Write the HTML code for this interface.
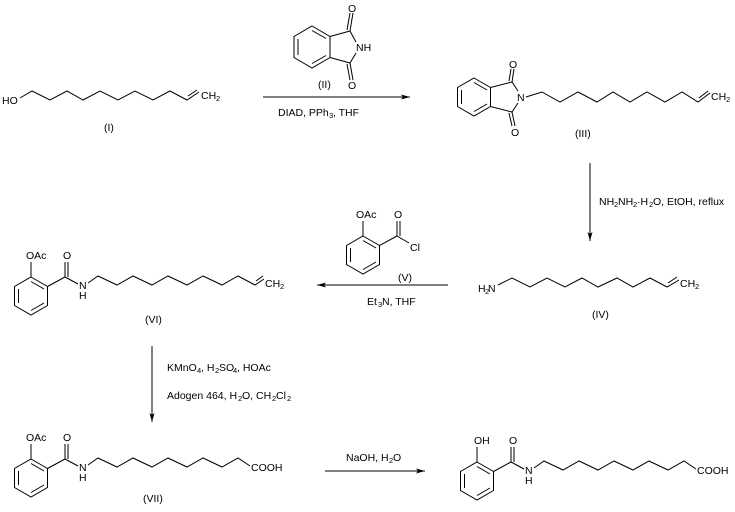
<!DOCTYPE html>
<html><head><meta charset="utf-8"><style>
html,body{margin:0;padding:0;background:#fff;}
svg{display:block;}
text{font-family:"Liberation Sans",Arial,sans-serif;font-size:10.5px;fill:#000;}
.s{font-size:7.5px;}
line,polyline,polygon.r{stroke:#000;stroke-width:1;fill:none;}
</style></head><body>
<svg width="735" height="512" viewBox="0 0 735 512" xmlns="http://www.w3.org/2000/svg">
<defs>
<marker id="ah" markerWidth="10" markerHeight="8" refX="9" refY="4" orient="auto" markerUnits="userSpaceOnUse">
<path d="M0,1.5 L9,4 L0,6.5 L2,4 Z" fill="#000"/>
</marker>
</defs>

<!-- (I) -->
<text x="2" y="104">HO</text>
<polyline points="20,98 32,91 50,100 67,91 83,100 100,91 118,100 135,91 153,100 170,91 187,100 199,92"/>
<line x1="188" y1="96" x2="197" y2="90"/>
<text x="201" y="99">CH</text><text class="s" x="216" y="101">2</text>
<text x="104" y="131">(I)</text>

<!-- (II) phthalimide -->
<polygon class="r" points="312,26 330,36.5 330,57.5 312,68 294,57.5 294,36.5"/>
<line x1="298" y1="39" x2="298" y2="55"/>
<line x1="312" y1="30.5" x2="326" y2="38.5"/>
<line x1="312" y1="63.5" x2="326" y2="55.5"/>
<polyline points="330,36.5 350,31 356,42"/>
<polyline points="330,57.5 350,63 356,53"/>
<line x1="350" y1="31" x2="353" y2="13"/><line x1="347" y1="30" x2="350" y2="13"/>
<line x1="350" y1="63" x2="353" y2="80"/><line x1="347" y1="64" x2="350" y2="80"/>
<text x="348" y="12">O</text>
<text x="356" y="51">NH</text>
<text x="348" y="89">O</text>
<text x="318" y="88">(II)</text>
<line x1="263" y1="97" x2="410" y2="97" marker-end="url(#ah)"/>
<text x="278" y="116">DIAD, PPh</text><text class="s" x="329" y="118">3</text><text x="333" y="116">, THF</text>

<!-- (III) -->
<polygon class="r" points="474,78 490.5,87.5 490.5,106.5 474,116 457.5,106.5 457.5,87.5"/>
<line x1="461.5" y1="90" x2="461.5" y2="104"/>
<line x1="474" y1="82.5" x2="487" y2="90"/>
<line x1="474" y1="111.5" x2="487" y2="104"/>
<polyline points="490.5,87.5 512,82 518,91"/>
<polyline points="490.5,106.5 512,112 518,103"/>
<line x1="512" y1="82" x2="514" y2="69"/><line x1="509" y1="81" x2="511" y2="69"/>
<line x1="512" y1="112" x2="515" y2="126"/><line x1="509" y1="113" x2="512" y2="126"/>
<text x="509" y="68">O</text>
<text x="517" y="101">N</text>
<text x="511" y="136">O</text>
<polyline points="526,97 542,92 560,102 578,92 597,102 613,92 630,102 647,92 665,102 682,92 698,102 710,93"/>
<line x1="699" y1="98" x2="708" y2="91"/>
<text x="711" y="100">CH</text><text class="s" x="726" y="102">2</text>
<text x="575" y="137">(III)</text>

<!-- arrow III -> IV -->
<line x1="590" y1="163" x2="590" y2="241" marker-end="url(#ah)"/>
<text x="599" y="205">NH</text><text class="s" x="614" y="207">2</text><text x="618" y="205">NH</text><text class="s" x="633" y="207">2</text><text x="637" y="205">·H</text><text class="s" x="649" y="207">2</text><text x="653" y="205">O, EtOH, reflux</text>

<!-- (IV) -->
<text x="478" y="292">H</text><text class="s" x="485" y="294">2</text><text x="488" y="292">N</text>
<polyline points="498,285 512,278 530,287 547,278 565,287 582,278 598,287 617,278 633,287 650,278 667,287 679,280"/>
<line x1="668" y1="283" x2="677" y2="277"/>
<text x="680" y="287">CH</text><text class="s" x="695" y="289">2</text>
<text x="592" y="318">(IV)</text>

<!-- arrow IV -> VI -->
<line x1="448" y1="285" x2="317" y2="285" marker-end="url(#ah)"/>
<text x="367" y="305">Et</text><text class="s" x="378" y="307">3</text><text x="382" y="305">N, THF</text>

<!-- (V) -->
<polygon class="r" points="363,236 379.5,245.5 379.5,264.5 363,274 346.5,264.5 346.5,245.5"/>
<line x1="350.5" y1="248" x2="350.5" y2="262"/>
<line x1="363" y1="240.5" x2="376" y2="248"/>
<line x1="363" y1="269.5" x2="376" y2="262"/>
<line x1="363" y1="236" x2="363" y2="221"/>
<text x="356" y="218">OAc</text>
<line x1="379.5" y1="245.5" x2="397" y2="236"/>
<line x1="397" y1="236" x2="397" y2="221"/><line x1="400" y1="236" x2="400" y2="221"/>
<text x="394" y="218">O</text>
<line x1="397" y1="236" x2="409" y2="243"/>
<text x="410" y="251">Cl</text>
<text x="398" y="281">(V)</text>

<!-- (VI) -->
<g id="sal">
<polygon class="r" points="31,277 47.5,286.5 47.5,305.5 31,315 14.5,305.5 14.5,286.5"/>
<line x1="18.5" y1="289" x2="18.5" y2="303"/>
<line x1="31" y1="281.5" x2="44" y2="289"/>
<line x1="31" y1="310.5" x2="44" y2="303"/>
<line x1="31" y1="277" x2="31" y2="262"/>
<line x1="47.5" y1="286.5" x2="65" y2="277"/>
<line x1="65" y1="277" x2="65" y2="262"/><line x1="68" y1="277" x2="68" y2="262"/>
<text x="63" y="259">O</text>
<line x1="65" y1="277" x2="78" y2="284"/>
<text x="79" y="289">N</text>
<text x="79" y="299">H</text>
</g>
<text x="26" y="259">OAc</text>
<polyline points="88,283 98,276 117,285 133,276 152,285 168,276 187,285 203,276 222,285 238,276 255,285 264,279"/>
<line x1="256" y1="281" x2="263" y2="276"/>
<text x="265" y="287">CH</text><text class="s" x="280" y="289">2</text>
<text x="145" y="323">(VI)</text>

<!-- arrow VI -> VII -->
<line x1="152" y1="346" x2="152" y2="422" marker-end="url(#ah)"/>
<text x="167" y="371">KMnO</text><text class="s" x="197" y="373">4</text><text x="201" y="371">, H</text><text class="s" x="215" y="373">2</text><text x="219" y="371">SO</text><text class="s" x="233" y="373">4</text><text x="237" y="371">, HOAc</text>
<text x="167" y="399">Adogen 464, H</text><text class="s" x="238" y="401">2</text><text x="242" y="399">O, CH</text><text class="s" x="272" y="401">2</text><text x="276" y="399">Cl</text><text class="s" x="287" y="401">2</text>

<!-- (VII) -->
<g transform="translate(0,182)">
<use href="#sal"/>
<text x="26" y="259">OAc</text>
<polyline points="88,283 98,276 117,285 133,276 152,285 168,276 187,285 203,276 222,285 238,276 250,284"/>
<text x="251" y="289">COOH</text>
<text x="143" y="320">(VII)</text>
</g>

<!-- arrow VII -> final -->
<line x1="325" y1="471" x2="425" y2="471" marker-end="url(#ah)"/>
<text x="346" y="461">NaOH, H</text><text class="s" x="389" y="463">2</text><text x="393" y="461">O</text>

<!-- final -->
<g transform="translate(446,185)">
<use href="#sal"/>
<text x="28" y="259">OH</text>
<polyline points="88,283 98,276 117,285 133,276 152,285 168,276 187,285 203,276 222,285 238,276 250,284"/>
<text x="251" y="289">COOH</text>
</g>
</svg>
</body></html>
